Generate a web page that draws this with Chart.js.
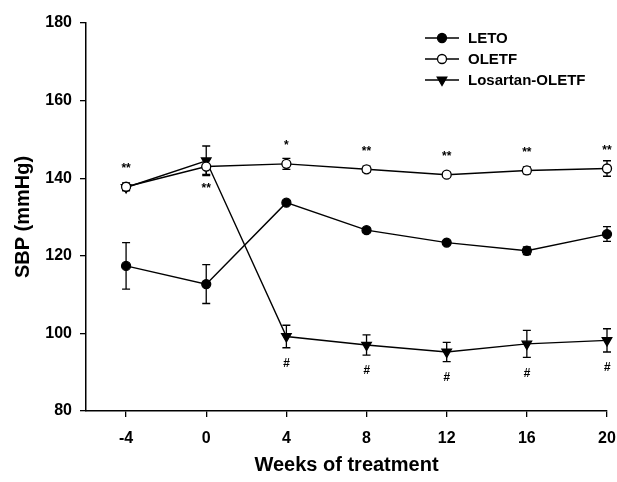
<!DOCTYPE html>
<html>
<head>
<meta charset="utf-8">
<script src="https://cdn.jsdelivr.net/npm/chart.js@4/dist/chart.umd.min.js"></script>
<style>
  html, body { margin: 0; padding: 0; background: #fff; }
</style>
</head>
<body>
<canvas id="sbp" width="617" height="482"></canvas>
<script>
// weeks of treatment (x) and systolic blood pressure (mmHg), mean and error
const weeks = [-4, 0, 4, 8, 12, 16, 20];
const letoMean = [117.4, 112.7, 133.7, 126.6, 123.4, 121.3, 125.6];
const letoErr = [6.0, 5.0, 0.5, 0.6, 0.5, 1.0, 1.9];
const oletfMean = [137.8, 143.0, 143.7, 142.3, 140.9, 142.0, 142.5];
const oletfErr = [1.0, 2.0, 1.4, 0.8, 0.6, 0.9, 2.0];
const losMean = [137.6, 144.5, 99.2, 97.0, 95.2, 97.3, 98.2];
const losErr = [0.8, 3.8, 2.9, 2.6, 2.5, 3.5, 3.0];
// significance marks (stars go with OLETF, hashes with Losartan-OLETF)
const starMarks = ['**', '**', '*', '**', '**', '**', '**'];
const starBelow = [false, true, false, false, false, false, false];
const hashMarks = ['', '', '#', '#', '#', '#', '#'];
const yTicks = [80, 100, 120, 140, 160, 180];
const seriesNames = ['LETO', 'OLETF', 'Losartan-OLETF'];

const toPoints = (arr) => arr.map((v, i) => ({ x: weeks[i], y: v }));
const errors = [letoErr, oletfErr, losErr];

//error bars, drawn under the markers
const errorBars = {
  id: 'errorBars',
  beforeDatasetsDraw(chart) {
    const ctx = chart.ctx;
    const xs = chart.scales.x, ys = chart.scales.y;
    ctx.save();
    ctx.strokeStyle = '#000';
    ctx.lineWidth = 1.3;
    chart.data.datasets.forEach((ds, d) => {
      ds.data.forEach((p, i) => {
        const e = errors[d][i];
        const px = xs.getPixelForValue(p.x);
        const top = ys.getPixelForValue(p.y + e);
        const bot = ys.getPixelForValue(p.y - e);
        ctx.beginPath();
        ctx.moveTo(px, top); ctx.lineTo(px, bot);
        ctx.moveTo(px - 4, top); ctx.lineTo(px + 4, top);
        ctx.moveTo(px - 4, bot); ctx.lineTo(px + 4, bot);
        ctx.stroke();
      });
    });
    ctx.restore();
  }
};

//stars and hashes next to the points
const sigMarks = {
  id: 'sigMarks',
  afterDatasetsDraw(chart) {
    const ctx = chart.ctx;
    const xs = chart.scales.x, ys = chart.scales.y;
    ctx.save();
    ctx.fillStyle = '#000';
    ctx.textAlign = 'center';
    ctx.textBaseline = 'middle';
    ctx.font = 'bold 12px "Liberation Sans", Arial, sans-serif';
    weeks.forEach((w, i) => {
      const px = xs.getPixelForValue(w);
      const py = ys.getPixelForValue(oletfMean[i]);
      if (starMarks[i]) ctx.fillText(starMarks[i], px, starBelow[i] ? py + 22 : py - 18);
    });
    ctx.font = 'italic bold 12px "Liberation Sans", Arial, sans-serif';
    weeks.forEach((w, i) => {
      if (!hashMarks[i]) return;
      const px = xs.getPixelForValue(w);
      const py = ys.getPixelForValue(losMean[i] - losErr[i]);
      ctx.fillText(hashMarks[i], px, py + 16);
    });
    ctx.restore();
  }
};

//legend: line sample with marker, then name
const lineLegend = {
  id: 'lineLegend',
  afterDraw(chart) {
    const ctx = chart.ctx;
    ctx.save();
    ctx.font = 'bold 15px "Liberation Sans", Arial, sans-serif';
    ctx.textBaseline = 'middle';
    chart.data.datasets.forEach((ds, d) => {
      const y = 38 + d * 21;
      ctx.strokeStyle = '#000';
      ctx.lineWidth = 1.3;
      ctx.beginPath();
      ctx.moveTo(425, y); ctx.lineTo(459, y);
      ctx.stroke();
      ctx.fillStyle = ds.pointBackgroundColor;
      ctx.lineWidth = ds.pointBorderWidth;
      Chart.helpers.drawPoint(ctx, {
        pointStyle: ds.pointStyle,
        radius: ds.pointRadius,
        rotation: ds.pointRotation || 0,
        borderWidth: ds.pointBorderWidth
      }, 442, y);
      ctx.fillStyle = '#000';
      ctx.fillText(ds.label, 468, y + 1);
    });
    ctx.restore();
  }
};

const baseDs = {
  borderColor: '#000',
  borderWidth: 1.4,
  pointBorderColor: '#000',
  pointBorderWidth: 1.3,
  showLine: true,
  clip: false,
  tension: 0
};

new Chart(document.getElementById('sbp'), {
  type: 'scatter',
  plugins: [errorBars, sigMarks, lineLegend],
  data: {
    datasets: [
      Object.assign({}, baseDs, {
        label: seriesNames[0], data: toPoints(letoMean),
        pointStyle: 'circle', pointRadius: 4.5, pointBackgroundColor: '#000'
      }),
      Object.assign({}, baseDs, {
        label: seriesNames[1], data: toPoints(oletfMean),
        pointStyle: 'circle', pointRadius: 4.5, pointBackgroundColor: '#fff'
      }),
      Object.assign({}, baseDs, {
        label: seriesNames[2], data: toPoints(losMean),
        pointStyle: 'triangle', pointRotation: 180, pointRadius: 5.5, pointBackgroundColor: '#000'
      })
    ]
  },
  options: {
    responsive: false,
    animation: false,
    devicePixelRatio: 1,
    layout: { padding: { top: 23, right: 0, left: 0, bottom: 0 } },
    plugins: { legend: { display: false }, tooltip: { enabled: false } },
    scales: {
      x: {
        type: 'linear', min: -6, max: 20,
        afterBuildTicks: (s) => { s.ticks = weeks.map(v => ({ value: v })); },
        afterFit: (s) => { s.height = 71; s.paddingRight = 10; s.paddingLeft = 0; },
        grid: { drawOnChartArea: false, drawTicks: true, tickLength: 6, color: '#000', lineWidth: 1.3 },
        border: { display: true, color: '#000', width: 1.5 },
        ticks: { color: '#000', padding: 12, font: { family: '"Liberation Sans", Arial, sans-serif', size: 16, weight: 'bold' } },
        title: {
          display: true, text: 'Weeks of treatment', color: '#000',
          padding: { top: 0, bottom: 5 },
          font: { family: '"Liberation Sans", Arial, sans-serif', size: 20, weight: 'bold' }
        }
      },
      y: {
        min: 80, max: 180,
        afterBuildTicks: (s) => { s.ticks = yTicks.map(v => ({ value: v })); },
        afterFit: (s) => { s.width = 86; },
        grid: { drawOnChartArea: false, drawTicks: true, tickLength: 6, color: '#000', lineWidth: 1.3 },
        border: { display: true, color: '#000', width: 1.5 },
        ticks: { color: '#000', padding: 8, font: { family: '"Liberation Sans", Arial, sans-serif', size: 16, weight: 'bold' } },
        title: {
          display: true, text: 'SBP (mmHg)', color: '#000',
          padding: { top: 11, bottom: 0 },
          font: { family: '"Liberation Sans", Arial, sans-serif', size: 20, weight: 'bold' }
        }
      }
    }
  }
});
</script>
</body>
</html>
